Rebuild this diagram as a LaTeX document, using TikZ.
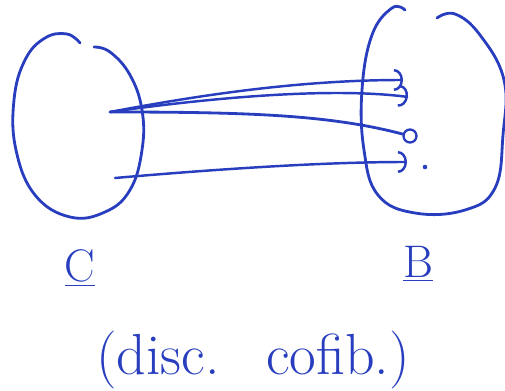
\documentclass[tikz,border=0pt]{standalone}
\usetikzlibrary{arrows.meta, positioning}
\definecolor{ink}{RGB}{40,62,190}
\begin{document}
\begin{tikzpicture}[
    x=0.02cm, y=-0.02cm,
    line width=1.6pt, draw=ink, line cap=round, line join=round,
    lbl/.style={font=\fontsize{26}{30}\selectfont, text=ink, inner sep=1pt},
    ar/.style={-{Arc Barb[length=1.8mm, width=4.4mm]}, line width=1.4pt},
    pt/.style={circle, draw=ink, line width=1.3pt, inner sep=0pt, minimum size=2.6mm}
]
\useasboundingbox (0,0) rectangle (505,391);
\draw plot[smooth, tension=0.7] coordinates {(80,43) (67,34) (45,38) (25,60) (14,100)
   (16,150) (35,195) (70,217) (105,212) (130,190) (142,150) (142,110) (130,75) (110,52) (94,47)};
\draw plot[smooth, tension=0.7] coordinates {(405,10) (392,8) (372,35) (362,90) (364,150)
   (378,195) (415,213) (465,210) (495,188) (503,135) (504,80) (480,35) (455,14) (437,18)};
\coordinate (c1) at (110,112);
\coordinate (c2) at (115,178);
\coordinate (b1) at (403,80);
\coordinate (b2) at (408,97);
\node[pt] (b3) at (410,136) {};
\coordinate (b4) at (407,162);
\fill[ink] (425,167) circle (1.3pt) coordinate (b5);
\draw[ar] (c1) .. controls (200,95) and (300,80) .. (b1);
\draw[ar] (c1) .. controls (230,95) and (340,88) .. (b2);
\draw (c1) .. controls (250,112) and (330,115) .. (b3);
\draw[ar] (c2) .. controls (230,168) and (330,162) .. (b4);
\node[lbl] (C) at (80,268) {\underline{C}};
\node[lbl] (B) at (418,264) {\underline{B}};
\node[lbl, font=\fontsize{33}{36}\selectfont] (cap) at (253,360) {(disc.\hspace{0.8em}cofib.)};
\end{tikzpicture}
\end{document}
